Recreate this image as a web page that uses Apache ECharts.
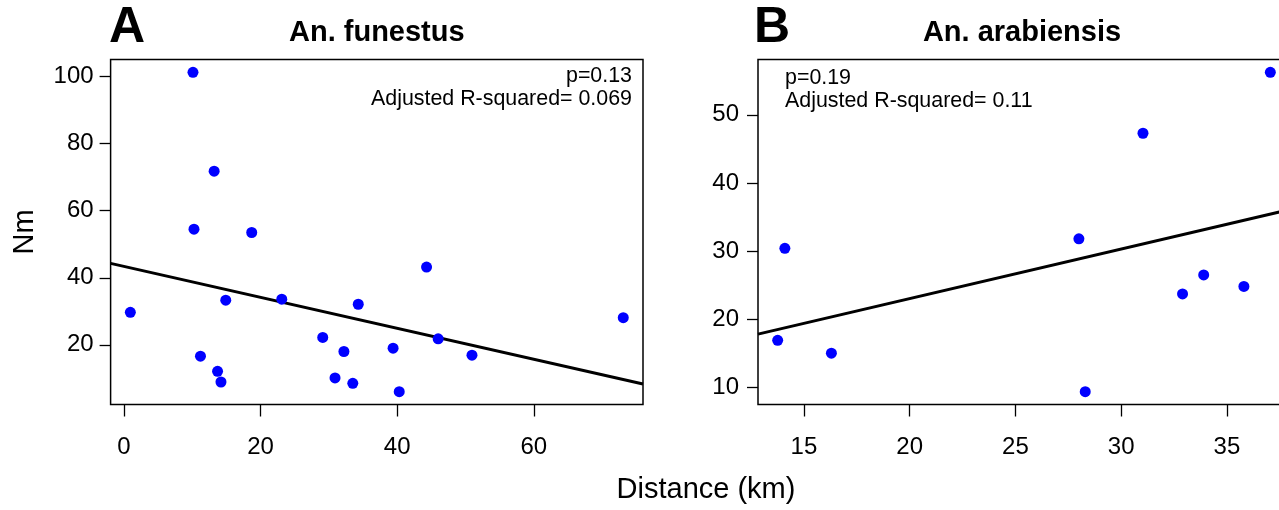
<!DOCTYPE html>
<html>
<head>
<meta charset="utf-8">
<script src="https://cdn.jsdelivr.net/npm/echarts@6/dist/echarts.min.js"></script>
<style>
html,body{margin:0;padding:0;background:#fff;overflow:hidden;width:1279px;height:510px;}
#c{width:1300px;height:510px;}
</style>
</head>
<body>
<div id="c"></div>
<script>
// ---- data ----
const distA = [10.1, 13.2, 10.25, 18.7, 0.93, 11.2, 13.7, 14.2, 14.9, 23.1, 29.1, 30.9, 32.2, 33.5, 34.3, 39.4, 40.3, 44.3, 46.0, 50.95, 73.1];
const nmA   = [101.3, 71.8, 54.5, 53.5, 29.7, 16.6, 12.1, 8.9, 33.3, 33.6, 22.2, 10.1, 18.0, 8.5, 32.1, 19.0, 6.0, 43.2, 21.8, 16.9, 28.1];
const distB = [14.1, 13.76, 16.3, 37.05, 31.03, 28.0, 32.9, 33.9, 35.8, 28.3];
const nmB   = [30.4, 16.9, 15.0, 56.25, 47.3, 31.8, 23.7, 26.5, 24.8, 9.35];
const fitAx = [-1.96, 75.99];
const fitAy = [44.3, 8.3];
const fitBx = [12.83, 37.98];
const fitBy = [17.8, 36.1];
const ticksAx = [0, 20, 40, 60];
const ticksAy = [20, 40, 60, 80, 100];
const ticksBx = [15, 20, 25, 30, 35];
const ticksBy = [10, 20, 30, 40, 50];
const rangeAx = [-1.96, 75.99];
const rangeAy = [2.19, 105.11];
const rangeBx = [12.83, 37.98];
const rangeBy = [7.47, 58.13];

const FONT = '"Liberation Sans", Arial, Helvetica, sans-serif';
const pair = (xs, ys) => xs.map((x, i) => [x, ys[i]]);

function xAxis(idx, range, ticks) {
  return {
    type: 'value', gridIndex: idx, min: range[0], max: range[1],
    splitLine: {show: false},
    axisLine: {show: false, onZero: false},
    axisTick: {show: true, inside: false, length: 12, customValues: ticks, lineStyle: {color: '#000', width: 1.3}},
    axisLabel: {show: true, customValues: ticks, margin: 31, color: '#000', fontSize: 24, fontFamily: FONT}
  };
}
function yAxis(idx, range, ticks, margin) {
  return {
    type: 'value', gridIndex: idx, min: range[0], max: range[1],
    splitLine: {show: false},
    axisLine: {show: false, onZero: false},
    axisTick: {show: true, inside: false, length: 11, customValues: ticks, lineStyle: {color: '#000', width: 1.3}},
    axisLabel: {show: true, customValues: ticks, margin: margin, color: '#000', fontSize: 24, fontFamily: FONT}
  };
}

const chart = echarts.init(document.getElementById('c'), null, {renderer: 'canvas'});
chart.setOption({
  animation: false,
  backgroundColor: '#fff',
  grid: [
    {left: 110.6, top: 59.5, width: 532.4, height: 345, show: true, borderColor: '#000', borderWidth: 1.5, backgroundColor: 'transparent'},
    {left: 758, top: 59.5, width: 532, height: 345, show: true, borderColor: '#000', borderWidth: 1.5, backgroundColor: 'transparent'}
  ],
  xAxis: [xAxis(0, rangeAx, ticksAx), xAxis(1, rangeBx, ticksBx)],
  yAxis: [yAxis(0, rangeAy, ticksAy, 17), yAxis(1, rangeBy, ticksBy, 19)],
  series: [
    {type: 'line', xAxisIndex: 0, yAxisIndex: 0, data: pair(fitAx, fitAy), symbol: 'none', lineStyle: {color: '#000', width: 3}, z: 2},
    {type: 'scatter', xAxisIndex: 0, yAxisIndex: 0, data: pair(distA, nmA), symbol: 'circle', symbolSize: 11, itemStyle: {color: '#0000ff', opacity: 1}, z: 3},
    {type: 'line', xAxisIndex: 1, yAxisIndex: 1, data: pair(fitBx, fitBy), symbol: 'none', lineStyle: {color: '#000', width: 3}, z: 2},
    {type: 'scatter', xAxisIndex: 1, yAxisIndex: 1, data: pair(distB, nmB), symbol: 'circle', symbolSize: 11, itemStyle: {color: '#0000ff', opacity: 1}, z: 3}
  ],
  graphic: [
    {type: 'text', left: 109, top: 3, style: {text: 'A', font: 'bold 50px ' + FONT, fill: '#000'}},
    {type: 'text', left: 754, top: 3, style: {text: 'B', font: 'bold 50px ' + FONT, fill: '#000'}},
    {type: 'text', x: 376.8, y: 33, style: {text: 'An. funestus', font: 'bold 29px ' + FONT, fill: '#000', align: 'center', verticalAlign: 'middle'}},
    {type: 'text', x: 1022, y: 33, style: {text: 'An. arabiensis', font: 'bold 29px ' + FONT, fill: '#000', align: 'center', verticalAlign: 'middle'}},
    {type: 'text', x: 632, y: 76, style: {text: 'p=0.13', font: '21.4px ' + FONT, fill: '#000', align: 'right', verticalAlign: 'middle'}},
    {type: 'text', x: 632, y: 99, style: {text: 'Adjusted R-squared= 0.069', font: '21.4px ' + FONT, fill: '#000', align: 'right', verticalAlign: 'middle'}},
    {type: 'text', x: 785, y: 78, style: {text: 'p=0.19', font: '21.4px ' + FONT, fill: '#000', align: 'left', verticalAlign: 'middle'}},
    {type: 'text', x: 785, y: 101, style: {text: 'Adjusted R-squared= 0.11', font: '21.4px ' + FONT, fill: '#000', align: 'left', verticalAlign: 'middle'}},
    {type: 'text', x: 25, y: 232, rotation: Math.PI / 2, style: {text: 'Nm', font: '29px ' + FONT, fill: '#000', align: 'center', verticalAlign: 'middle'}},
    {type: 'text', x: 706, y: 490, style: {text: 'Distance (km)', font: '29px ' + FONT, fill: '#000', align: 'center', verticalAlign: 'middle'}}
  ]
});
</script>
</body>
</html>
